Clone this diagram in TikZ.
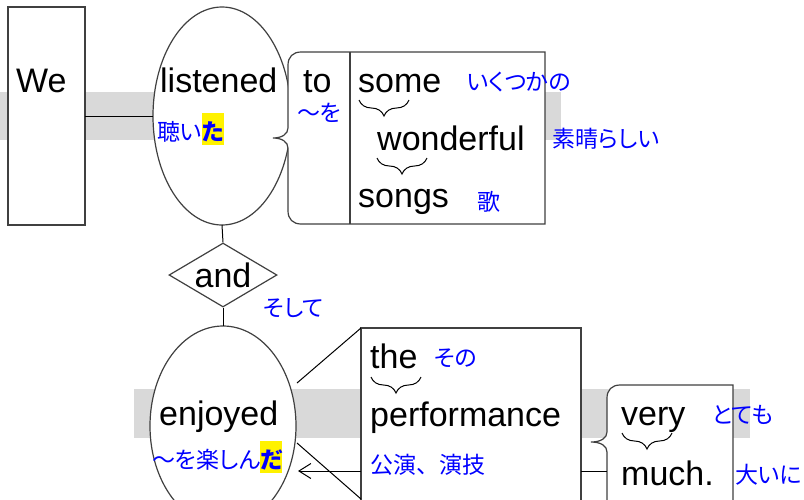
\documentclass[tikz,border=0pt]{standalone}
\usepackage{fontspec}
\setmainfont{Liberation Sans}
\newfontfamily\jpfont{Noto Sans CJK JP}[RawFeature=+palt]
\usetikzlibrary{positioning, arrows.meta, shapes.geometric, decorations.pathreplacing}
\newcommand{\hilite}[1]{{\setlength{\fboxsep}{0pt}\colorbox{yellow}{\rule[-5pt]{0pt}{32pt}\bfseries #1}}}

\begin{document}
\begin{tikzpicture}[
        x=1pt, y=-1pt,
        boxline/.style={draw=black!75, line width=1.2pt},
        wordbox/.style={boxline, fill=white, inner sep=0, outer sep=0},
        en/.style={font=\fontsize{34}{40}\selectfont, inner sep=0, anchor=base west},
        jp/.style={font=\jpfont\fontsize{23}{28}\selectfont, text=blue, inner sep=0, anchor=base west},
        link/.style={line width=1pt},
        arrow/.style={-{Straight Barb[length=12pt, width=15pt]}, line width=1pt},
        ubrace/.style={decorate, decoration={brace, mirror, amplitude=16pt}, line width=1pt}
    ]

    \clip (0,0) rectangle (804,499);
    \fill[black!15] (0,92) rectangle (561,140);
    \fill[black!15] (134,389) rectangle (750,438);

    % first clause
    \node[wordbox, minimum width=77, minimum height=218] (webox) at (46.5,116) {};
    \node[en] (we) at (16,92) {We};
    \node[wordbox, ellipse, minimum width=138, minimum height=218] (listened) at (222,116) {};
    \node[en] (listen) at (160,92) {listened};
    \node[jp] (kiita) at (157,140) {聴い\hilite{た}};
    \draw[link] (webox) -- (listened);

    \draw[wordbox] (545,52) -- (301,52) .. controls (293,52) and (288,57) .. (288,65) -- (288,128)
        .. controls (288,134) and (282,138) .. (273,138) .. controls (282,138) and (288,142) .. (288,148)
        -- (288,211) .. controls (288,219) and (293,224) .. (301,224) -- (545,224) -- cycle;
    \draw[boxline] (350,52) -- (350,224);
    \node[en] (to) at (303,92) {to};
    \node[jp] (wo) at (297,121) {〜を};
    \node[en] (some) at (358,92) {some};
    \node[jp] (ikutsuka) at (467,90) {いくつかの};
    \node[en] (wonderful) at (377,150) {wonderful};
    \node[jp] (subarashii) at (552,147) {素晴らしい};
    \node[en] (songs) at (358,207) {songs};
    \node[jp] (uta) at (477,210) {歌};
    \draw[ubrace] ([shift={(1,8)}]some.base west) -- ([shift={(51,8)}]some.base west);
    \draw[ubrace] ([shift={(0,8)}]wonderful.base west) -- ([shift={(50,8)}]wonderful.base west);

    % conjunction
    \node[boxline, fill=white, diamond, aspect=1.7, inner sep=0, minimum width=108, minimum height=64,
        font=\fontsize{34}{40}\selectfont] (and) at (223,275) {and};
    \node[jp] (soshite) at (263,316) {そして};
    \draw[link] (listened.south) -- (and.north);

    % second clause
    \node[wordbox, ellipse, minimum width=146, minimum height=200] (enjoyed) at (223,426) {};
    \draw[link] (and.south) -- (enjoyed.north);
    \node[en] (enjoy) at (159,425) {enjoyed};
    \node[jp] (tanoshinda) at (152,468) {〜を楽しん\hilite{だ}};

    \node[wordbox, anchor=north west, minimum width=220, minimum height=200] (perfbox) at (361,328) {};
    \coordinate (coneT) at (297,383);
    \coordinate (coneB) at (297,443);
    \coordinate (coneE) at (361,499);
    \coordinate (enjArr) at (298,471);
    \draw[link] (coneT) -- (perfbox.north west);
    \draw[link] (coneB) -- (coneE);
    \draw[arrow] (perfbox.west |- enjArr) -- (enjArr);
    \node[en] (the) at (370,368) {the};
    \node[jp] (sono) at (434,366) {その};
    \node[en] (perf) at (370,426) {performance};
    \node[jp] (koen) at (370,473) {\addfontfeature{RawFeature=-palt}公演、演技};
    \draw[ubrace] ([shift={(1,9)}]the.base west) -- ([shift={(51,9)}]the.base west);

    \draw[wordbox] (733,520) -- (733,385) -- (620,385) .. controls (612,385) and (607,390) .. (607,398)
        -- (607,432) .. controls (607,438) and (601,442) .. (591,442) .. controls (601,442) and (607,446) .. (607,452)
        -- (607,520) -- cycle;
    \coordinate (veryL) at (607,471);
    \draw[link] (perfbox.east |- veryL) -- (veryL);
    \node[en] (very) at (621,425) {very};
    \node[jp] (totemo) at (712,423) {とても};
    \node[en] (much) at (621,485) {much.};
    \node[jp] (ooini) at (735,483) {大いに};
    \draw[ubrace] ([shift={(1,8)}]very.base west) -- ([shift={(51,8)}]very.base west);

\end{tikzpicture}
\end{document}
